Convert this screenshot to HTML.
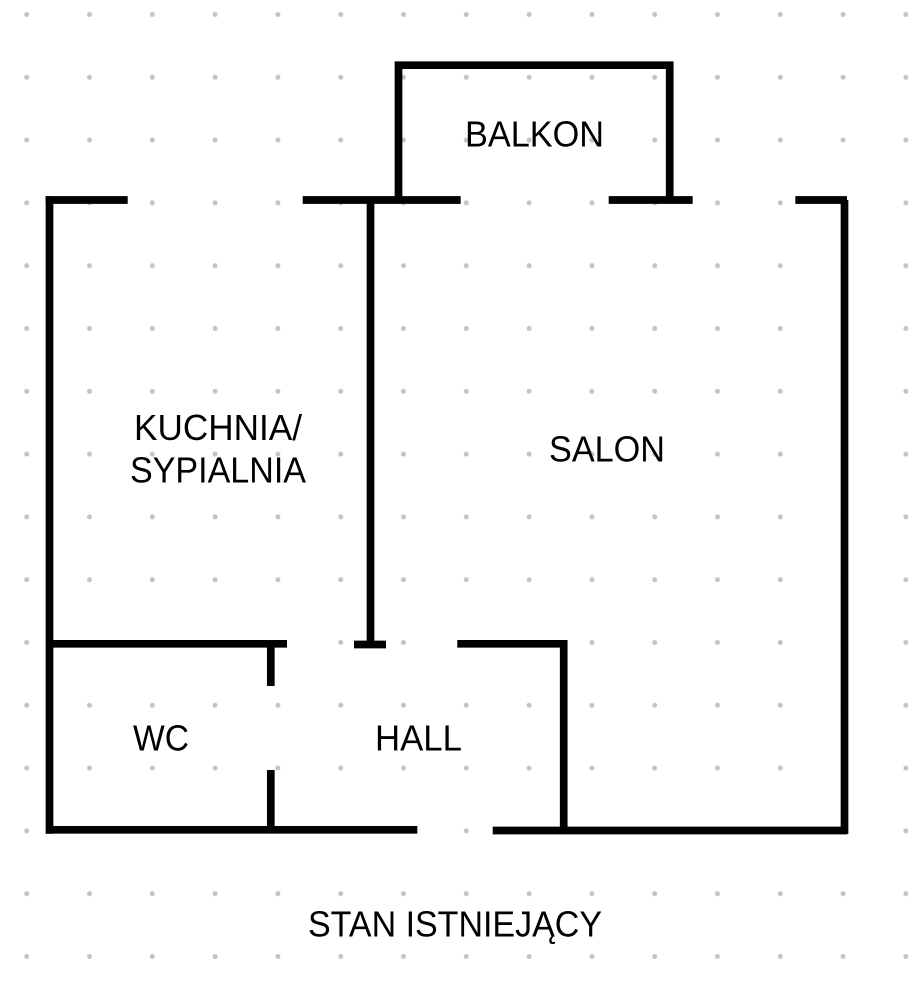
<!DOCTYPE html>
<html lang="pl">
<head>
<meta charset="utf-8">
<title>Stan istniejący</title>
<style>
html,body{margin:0;padding:0;background:#fff;width:914px;height:1000px;overflow:hidden}
svg{display:block}
text{font-family:"Liberation Sans",Arial,sans-serif;font-size:36px;fill:#000}
</style>
</head>
<body>
<svg xmlns="http://www.w3.org/2000/svg" width="914" height="1000" viewBox="0 0 914 1000">
<defs>
<pattern id="d" x="26.7" y="14.5" width="62.8" height="62.8" patternUnits="userSpaceOnUse" patternTransform="translate(-26.7 -14.5)">
<circle cx="26.7" cy="14.5" r="2.5" fill="#c4c4c4"/>
</pattern>
</defs>
<rect width="914" height="1000" fill="#fff"/>
<rect width="914" height="1000" fill="url(#d)"/>
<g fill="none" stroke="#000" stroke-width="7.7" stroke-linecap="butt">
<path d="M398.5 200V65.2H669.7V200"/>
<path d="M45.7 200H127.7"/>
<path d="M302.7 200H460.7"/>
<path d="M608.7 200H692.7"/>
<path d="M795.3 200H847"/>
<path d="M49.5 196.2V833.7"/>
<path d="M844.5 200V834"/>
<path d="M370.5 200V644"/>
<path d="M49.5 643.8H287"/>
<path d="M354 644.5H386"/>
<path d="M457.3 643.8H567.3"/>
<path d="M563.7 640V830"/>
<path d="M270.8 644V686"/>
<path d="M270.8 770V830"/>
<path d="M46 829.8H417.3"/>
<path d="M492.7 830.5H847"/>
</g>
<text x="465" y="146.5" textLength="139" lengthAdjust="spacingAndGlyphs">BALKON</text>
<text x="134" y="440" textLength="168" lengthAdjust="spacingAndGlyphs">KUCHNIA/</text>
<text x="130" y="482.7" textLength="176" lengthAdjust="spacingAndGlyphs">SYPIALNIA</text>
<text x="549" y="461.7" textLength="116" lengthAdjust="spacingAndGlyphs">SALON</text>
<text x="133" y="750.7" textLength="56" lengthAdjust="spacingAndGlyphs">WC</text>
<text x="375" y="750.7" textLength="87" lengthAdjust="spacingAndGlyphs">HALL</text>
<text x="308" y="936.7" textLength="294" lengthAdjust="spacingAndGlyphs">STAN ISTNIEJĄCY</text>
</svg>
</body>
</html>
